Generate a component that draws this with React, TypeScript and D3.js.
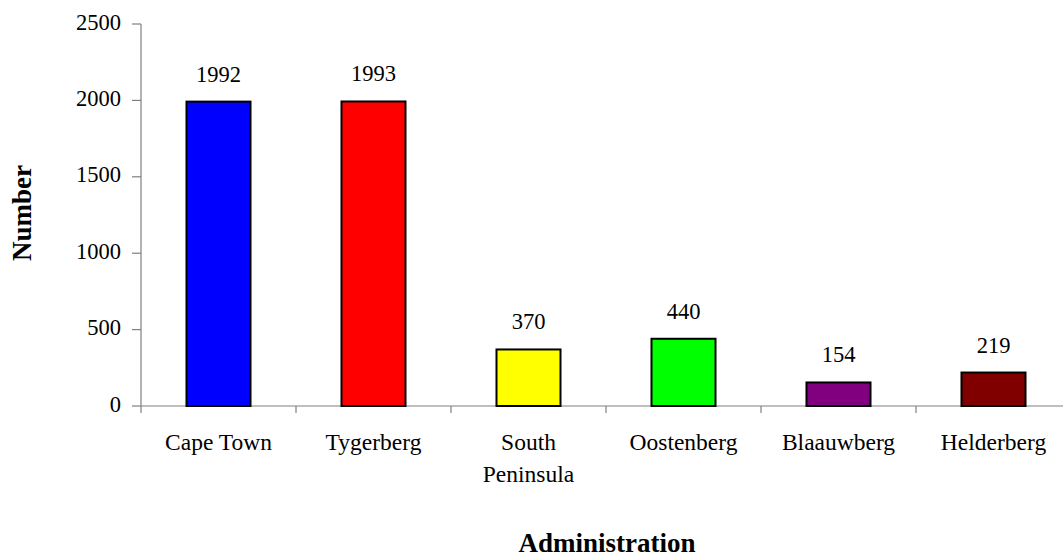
import React from "react";
import * as d3 from "d3";

const categories: string[][] = [
  ["Cape Town"],
  ["Tygerberg"],
  ["South", "Peninsula"],
  ["Oostenberg"],
  ["Blaauwberg"],
  ["Helderberg"],
];
const values: number[] = [1992, 1993, 370, 440, 154, 219];
const barColors: string[] = ["#0000FF", "#FF0000", "#FFFF00", "#00FF00", "#800080", "#800000"];
const yTicks: number[] = [0, 500, 1000, 1500, 2000, 2500];
const yTitle = "Number";
const xTitle = "Administration";

const W = 1063;
const H = 558;
const left = 141;
const right = 1071;
const top = 24;
const bottom = 406;
const FONT = "Liberation Serif";
const AXIS = "#808080";

const txt: React.CSSProperties = { fontFamily: FONT };

export default function App() {
  const keys = categories.map((c) => c.join(" "));
  const x = d3.scaleBand<string>().domain(keys).range([left, right]).padding(0.587).paddingOuter(0.2935);
  const y = d3.scaleLinear().domain([0, 2500]).range([bottom, top]);
  const step = x.step();
  const boundaries = d3.range(keys.length + 1).map((i) => left + i * step);

  return (
    <svg
      width={W}
      height={H}
      style={{ position: "absolute", left: 0, top: 0, background: "#fff", fontFamily: FONT }}
    >
      {/* y axis */}
      <line x1={left} x2={left} y1={top} y2={bottom} stroke={AXIS} strokeWidth={1.2} />
      {yTicks.map((t) => (
        <g key={t}>
          <line x1={left - 9} x2={left} y1={y(t)} y2={y(t)} stroke={AXIS} strokeWidth={1.2} />
          <text x={121} y={y(t)} dy="0.25em" textAnchor="end" fontSize={22.5} fill="#000" style={txt}>
            {t}
          </text>
        </g>
      ))}
      {/* x axis */}
      <line x1={left} x2={W} y1={bottom} y2={bottom} stroke={AXIS} strokeWidth={1.2} />
      {boundaries.map((b, i) => (
        <line key={i} x1={b} x2={b} y1={bottom} y2={bottom + 7} stroke={AXIS} strokeWidth={1.2} />
      ))}
      {/* bars */}
      {values.map((v, i) => (
        <g key={keys[i]}>
          <rect
            x={x(keys[i])!}
            y={y(v)}
            width={x.bandwidth()}
            height={y(0) - y(v)}
            fill={barColors[i]}
            stroke="#000"
            strokeWidth={2}
          />
          <text
            x={x(keys[i])! + x.bandwidth() / 2}
            y={y(v) - 20}
            textAnchor="middle"
            fontSize={22.5}
            fill="#000"
            style={txt}
          >
            {v}
          </text>
        </g>
      ))}
      {/* category labels */}
      {categories.map((lines, i) => (
        <text
          key={keys[i]}
          x={x(keys[i])! + x.bandwidth() / 2}
          y={450}
          textAnchor="middle"
          fontSize={23.5}
          fill="#000"
          style={txt}
        >
          {lines.map((l, j) => (
            <tspan key={j} x={x(keys[i])! + x.bandwidth() / 2} dy={j === 0 ? 0 : 31.5}>
              {l}
            </tspan>
          ))}
        </text>
      ))}
      {/* titles */}
      <text
        transform={`translate(31,213) rotate(-90)`}
        textAnchor="middle"
        fontSize={27}
        fontWeight="bold"
        fill="#000"
        style={txt}
      >
        {yTitle}
      </text>
      <text x={607} y={552} textAnchor="middle" fontSize={27} fontWeight="bold" fill="#000" style={txt}>
        {xTitle}
      </text>
    </svg>
  );
}
